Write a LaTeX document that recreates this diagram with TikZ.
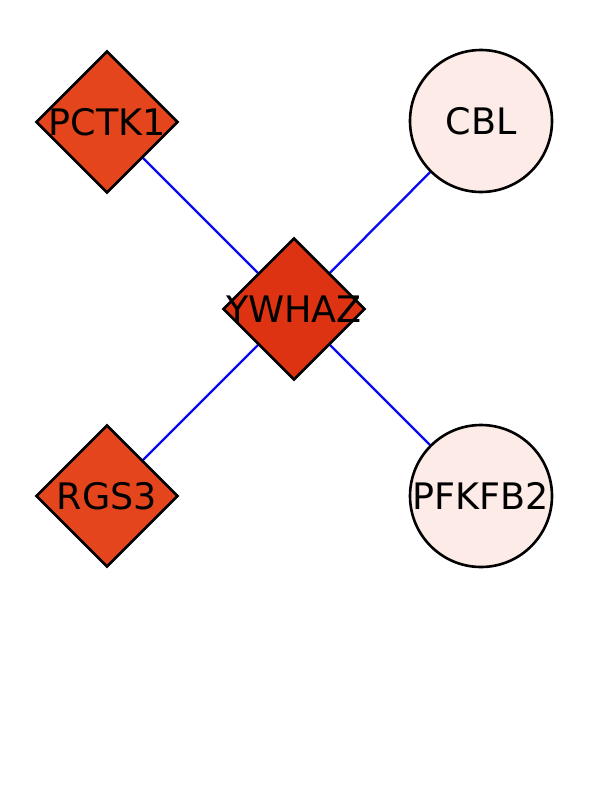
\documentclass[tikz,border=0pt]{standalone}
\usepackage{fontspec}
\setmainfont{DejaVu Sans}
\usetikzlibrary{shapes.geometric,backgrounds}
\definecolor{geneHub}{HTML}{DD3312}
\definecolor{geneHit}{HTML}{E4451C}
\definecolor{genePale}{HTML}{FCEBE6}
\definecolor{edgeBlue}{HTML}{0A0AF0}
\tikzset{
  % Diamonds: query genes. The label sits on top and may spill over the border.
  net/hit/.style={
    diamond, aspect=1, draw=black, line width=2.6pt, fill=geneHit,
    minimum width=142pt, minimum height=142pt, inner sep=0pt,
    label={[net/text]center:#1}
  },
  net/hub/.style={net/hit=#1, fill=geneHub},
  % Circles: partner genes.
  net/partner/.style={
    circle, draw=black, line width=2.6pt, fill=genePale,
    minimum size=142pt, inner sep=0pt, font=\fontsize{36.5}{38}\selectfont
  },
  net/text/.style={font=\fontsize{36.5}{38}\selectfont, inner sep=0pt, text=black},
  % Interactions.
  net/edge/.style={draw=edgeBlue, line width=2.3pt}
}
\begin{document}
\begin{tikzpicture}[x=1pt,y=-1pt]
  \useasboundingbox (0,0) rectangle (612,792);
  \node[net/hit=PCTK1]  (pctk1)  at (107,122) {};
  \node[net/hub=YWHAZ]  (ywhaz)  at (294,309) {};
  \node[net/hit=RGS3]   (rgs3)   at (107,496) {};
  \node[net/partner]    (cbl)    at (481,121) {CBL};
  \node[net/partner]    (pfkfb2) at (481,496) {PFKFB2};
  \begin{scope}[on background layer]
    \draw[net/edge] (pctk1.center) -- (ywhaz.center);
    \draw[net/edge] (cbl.center) -- (ywhaz.center);
    \draw[net/edge] (rgs3.center) -- (ywhaz.center);
    \draw[net/edge] (pfkfb2.center) -- (ywhaz.center);
  \end{scope}
\end{tikzpicture}
\end{document}
